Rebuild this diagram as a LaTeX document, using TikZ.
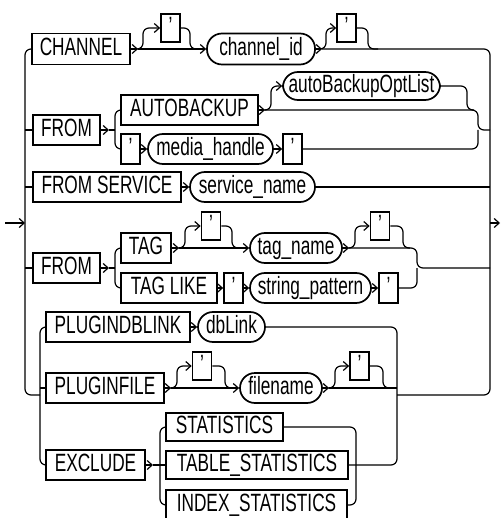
\documentclass[tikz,border=0pt]{standalone}
\usepackage{fontspec}
\setmainfont{Liberation Sans}[FakeStretch=0.69]
\usetikzlibrary{arrows.meta}
\begin{document}
\begin{tikzpicture}[x=1pt,y=-1pt,
  kw/.style={draw, line width=1.7pt, inner sep=0pt, text height=18pt, text depth=4.5pt,
    font=\fontsize{25}{25}\selectfont, minimum height=30pt},
  ov/.style={kw, rounded corners=15pt},
  qt/.style={kw, minimum width=19pt, minimum height=28pt},
  conn/.style={line width=1.2pt, rounded corners=6pt},
  >={Straight Barb[length=5pt,width=9pt]}]
\fill[white] (0,0) rectangle (501,518);
\useasboundingbox (0,0) rectangle (501,518);

% ---- nodes
\node[kw, minimum width=98pt, minimum height=31pt] (ch) at (81,49) {CHANNEL};
\node[qt] (q1) at (170.5,28) {'};
\node[ov, minimum width=108pt, minimum height=31pt] (cid) at (261,49) {channel\_id};
\node[qt] (q2) at (346.5,28) {'};

\node[kw, minimum width=67pt] (from1) at (66.5,130) {FROM};
\node[kw, minimum width=137pt] (ab) at (189.5,110) {AUTOBACKUP};
\node[ov, minimum width=157pt, minimum height=28pt] (abl) at (361.5,86) {autoBackupOptList};
\node[qt, minimum height=30pt] (q3) at (130.5,149) {'};
\node[ov, minimum width=125pt] (mh) at (210.5,149) {media\_handle};
\node[qt, minimum height=30pt] (q4) at (292.5,149) {'};

\node[kw, minimum width=148pt] (fs) at (107,187) {FROM SERVICE};
\node[ov, minimum width=125pt] (sn) at (252.5,187) {service\_name};

\node[kw, minimum width=67pt] (from2) at (66.5,268) {FROM};
\node[kw, minimum width=50pt] (tag) at (146,248) {TAG};
\node[kw, minimum width=96pt] (tagl) at (169,288) {TAG LIKE};
\node[qt] (q5) at (211,226) {'};
\node[ov, minimum width=92pt] (tn) at (296,248) {tag\_name};
\node[qt] (q6) at (380,226) {'};
\node[qt, minimum height=30pt] (q7) at (233.5,288) {'};
\node[ov, minimum width=121pt] (sp) at (310.5,288) {string\_pattern};
\node[qt, minimum height=30pt] (q8) at (388.5,288) {'};

\node[kw, minimum width=144pt] (pdb) at (118,327) {PLUGINDBLINK};
\node[ov, minimum width=67pt] (dbl) at (231.5,327) {dbLink};
\node[kw, minimum width=118pt] (pf) at (105,388) {PLUGINFILE};
\node[qt] (q9) at (202,366) {'};
\node[ov, minimum width=82pt] (fn) at (281,388) {filename};
\node[qt] (q10) at (359.5,366) {'};

\node[kw, minimum width=99pt] (ex) at (95.5,465) {EXCLUDE};
\node[kw, minimum width=117pt, minimum height=28pt] (stat) at (224.5,427) {STATISTICS};
\node[kw, minimum width=182pt, minimum height=28pt] (tst) at (257,465) {TABLE\_STATISTICS};
\node[kw, minimum width=181pt, minimum height=30pt] (ist) at (256.5,505) {INDEX\_STATISTICS};

% ---- main rails
\draw[conn,->] (5,223) -- (25,223);
\draw[conn] (ch.west) -- (25,49) -- (25,395) -- (40,395);
\draw[conn] (25,130) -- (from1.west);
\draw[conn] (25,187) -- (fs.west);
\draw[conn] (25,268) -- (from2.west);
\draw[conn] (322,49) -- (490,49) -- (490,395) -- (397,395);
\draw[conn,->] (490,223) -- (500,223);

% ---- row 1
\draw[conn,->] (ch.east) -- (138,49);
\draw[conn,->] (138,49) -- (cid.west);
\draw[conn,->] (131,49) -- (143,49) -- (143,28) -- (q1.west);
\draw[conn] (q1.east) -- (190,28) -- (190,49) -- (200,49);
\draw[conn,->] (cid.east) -- (322,49);
\draw[conn,->] (316,49) -- (326,49) -- (326,28) -- (q2.west);
\draw[conn] (q2.east) -- (368,28) -- (368,49) -- (378,49);

% ---- row 2
\draw[conn,->] (from1.east) -- (109,130);
\draw[conn] (109,130) -- (115,130);
\draw[conn] (ab.west) -- (115,110) -- (115,149) -- (q3.west);
\draw[conn,->] (q3.east) -- (mh.west);
\draw[conn,->] (mh.east) -- (q4.west);
\draw[conn] (q4.east) -- (478,149) -- (478,130);
\draw[conn,->] (ab.east) -- (265,110);
\draw[conn] (265,110) -- (478,110) -- (478,130) -- (490,130);
\draw[conn,->] (259,110) -- (271,110) -- (271,86) -- (abl.west);
\draw[conn] (abl.east) -- (467,86) -- (467,110) -- (474,110);

% ---- row 3
\draw[conn,->] (fs.east) -- (sn.west);
\draw[conn] (sn.east) -- (490,187);

% ---- row 4
\draw[conn,->] (from2.east) -- (109,268);
\draw[conn] (109,268) -- (115,268);
\draw[conn] (tag.west) -- (115,248) -- (115,288) -- (tagl.west);
\draw[conn,->] (tag.east) -- (179,248);
\draw[conn,->] (179,248) -- (tn.west);
\draw[conn,->] (172,248) -- (185,248) -- (185,226) -- (q5.west);
\draw[conn] (q5.east) -- (232,226) -- (232,248) -- (240,248);
\draw[conn,->] (tn.east) -- (349,248);
\draw[conn] (349,248) -- (417,248) -- (417,268) -- (490,268);
\draw[conn,->] (343,248) -- (355,248) -- (355,226) -- (q6.west);
\draw[conn] (q6.east) -- (403,226) -- (403,248) -- (410,248);
\draw[conn,->] (tagl.east) -- (q7.west);
\draw[conn,->] (q7.east) -- (sp.west);
\draw[conn,->] (sp.east) -- (q8.west);
\draw[conn] (q8.east) -- (417,288) -- (417,268);

% ---- plugin group
\draw[conn] (pdb.west) -- (40,327) -- (40,465) -- (ex.west);
\draw[conn] (40,388) -- (pf.west);
\draw[conn,->] (pdb.east) -- (dbl.west);
\draw[conn] (dbl.east) -- (397,327) -- (397,465) -- (tst.east);
\draw[conn,->] (pf.east) -- (171,388);
\draw[conn,->] (171,388) -- (fn.west);
\draw[conn,->] (165,388) -- (177,388) -- (177,366) -- (q9.west);
\draw[conn] (q9.east) -- (225,366) -- (225,388) -- (232,388);
\draw[conn,->] (fn.east) -- (329,388);
\draw[conn] (329,388) -- (397,388);
\draw[conn,->] (323,388) -- (335,388) -- (335,366) -- (q10.west);
\draw[conn] (q10.east) -- (383,366) -- (383,388) -- (390,388);

% ---- exclude
\draw[conn,->] (ex.east) -- (153,465);
\draw[conn] (153,465) -- (tst.west);
\draw[conn] (stat.west) -- (160,427) -- (160,505) -- (ist.west);
\draw[conn] (stat.east) -- (356,427) -- (356,505) -- (ist.east);
\end{tikzpicture}
\end{document}
